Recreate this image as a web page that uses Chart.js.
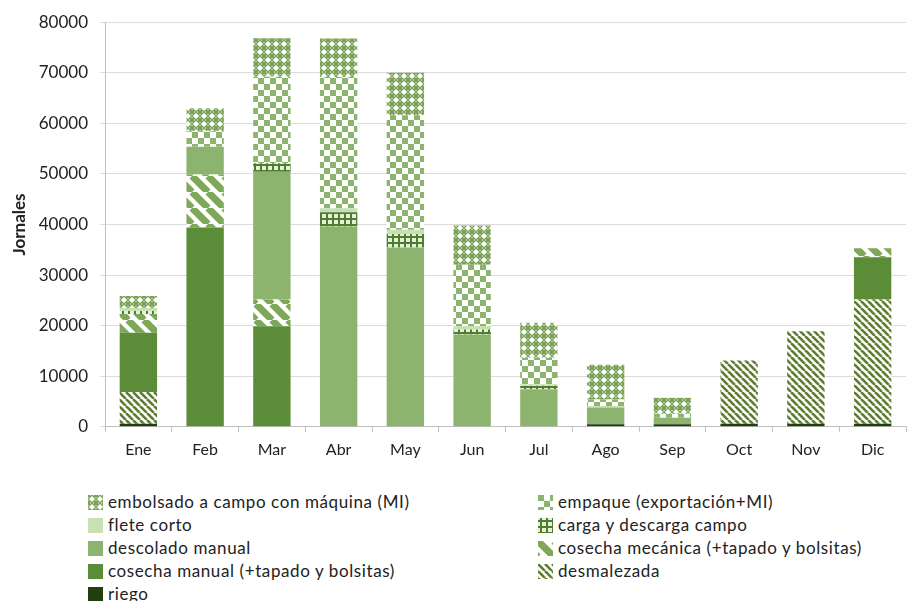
<!DOCTYPE html>
<html>
<head>
<meta charset="utf-8">
<script src="https://cdn.jsdelivr.net/npm/chart.js@4.4.1/dist/chart.umd.min.js"></script>
<style>
    body { margin: 0; background: #fff; width: 908px; height: 601px; overflow: hidden; position: relative; font-family: Lato, "Open Sans", sans-serif; }
    #wrap { position: absolute; left: 0; top: 0; width: 908px; height: 467px; }
    .legend { position: absolute; font-size: 17px; letter-spacing: 0.6px; color: #222; }
    .legend .row { position: absolute; white-space: nowrap; height: 20px; line-height: 20px; }
    .legend canvas { position: absolute; left: 0; top: 3px; }
    .legend span { position: absolute; left: 20px; top: 0; }
</style>
</head>
<body>
<div id="wrap"><canvas id="chart"></canvas></div>
<div class="legend" id="legendLeft" style="left:88px; top:492px;"></div>
<div class="legend" id="legendRight" style="left:538px; top:492px;"></div>
<script>
const months = ['Ene', 'Feb', 'Mar', 'Abr', 'May', 'Jun', 'Jul', 'Ago', 'Sep', 'Oct', 'Nov', 'Dic'];
const yTicks = [0, 10000, 20000, 30000, 40000, 50000, 60000, 70000, 80000];

// series, bottom of the stack first
const riego = [600, 0, 0, 0, 0, 0, 0, 500, 500, 600, 600, 600];
const desmalezada = [6300, 0, 0, 0, 0, 0, 0, 0, 0, 12500, 18300, 24550];
const cosechaManual = [11700, 39400, 19900, 0, 0, 0, 0, 0, 0, 0, 0, 8350];
const cosechaMecanica = [3700, 10500, 5250, 0, 0, 0, 0, 0, 0, 0, 0, 1800];
const descolado = [0, 5450, 25300, 39600, 35460, 18260, 7400, 3300, 1300, 0, 0, 0];
const carga = [600, 0, 1650, 2800, 2640, 1000, 700, 0, 0, 0, 0, 0];
const flete = [600, 0, 0, 800, 850, 650, 300, 300, 0, 0, 0, 0];
const empaque = [0, 3100, 17100, 25950, 22650, 12150, 5250, 1300, 800, 0, 0, 0];
const embolsado = [2350, 4600, 7650, 7650, 8400, 7750, 6900, 6900, 3150, 0, 0, 0];

// pattern painters
function solid(color) {
    return function(g, s) { g.fillStyle = color; g.fillRect(0, 0, s, s); };
}
function stripes(bg, fg, width) {
    return function(g, s) {
        g.fillStyle = bg; g.fillRect(0, 0, s, s);
        g.strokeStyle = fg; g.lineWidth = width;
        for (let k = -1; k <= 1; k++) {
            g.beginPath();
            g.moveTo(k * s, 0);
            g.lineTo(k * s + s, s);
            g.stroke();
        }
    };
}
function checker(g, s) {
    g.fillStyle = '#ffffff'; g.fillRect(0, 0, s, s);
    g.fillStyle = '#8db46f';
    g.fillRect(0, 0, s / 2, s / 2);
    g.fillRect(s / 2, s / 2, s / 2, s / 2);
}
function crossBars(g, s) {
    g.fillStyle = '#e4f0da'; g.fillRect(0, 0, s, s);
    g.fillStyle = '#4f7d2e';
    g.fillRect(0, 2, s, 2);
    g.fillRect(2, 0, 2, s);
}
function lattice(g, s) {
    g.fillStyle = '#ffffff'; g.fillRect(0, 0, s, s);
    g.strokeStyle = '#7aa357'; g.lineWidth = 1.4;
    g.beginPath();
    g.moveTo(0, s / 2); g.lineTo(s / 2, 0); g.lineTo(s, s / 2); g.lineTo(s / 2, s); g.closePath();
    g.stroke();
    g.fillStyle = '#7aa357';
    g.fillRect(0, 0, 2, 2); g.fillRect(s - 2, 0, 2, 2); g.fillRect(0, s - 2, 2, 2); g.fillRect(s - 2, s - 2, 2, 2);
}

function makePattern(ctx, size, paint) {
    const c = document.createElement('canvas');
    c.width = size; c.height = size;
    paint(c.getContext('2d'), size);
    return ctx.createPattern(c, 'repeat');
}

const styles = {
    riego: [4, solid('#233f12')],
    desmalezada: [7, stripes('#ffffff', '#5e7c2e', 2.6)],
    cosechaManual: [4, solid('#5b8d38')],
    cosechaMecanica: [16, stripes('#ffffff', '#7ea75a', 7)],
    descolado: [4, solid('#8db46f')],
    carga: [6, crossBars],
    flete: [4, solid('#c8e1b4')],
    empaque: [12, checker],
    embolsado: [8, lattice]
};

const ctx = document.getElementById('chart').getContext('2d');
function bg(key) { return makePattern(ctx, styles[key][0], styles[key][1]); }

const series = [
    { key: 'riego', label: 'riego', data: riego },
    { key: 'desmalezada', label: 'desmalezada', data: desmalezada },
    { key: 'cosechaManual', label: 'cosecha manual (+tapado y  bolsitas)', data: cosechaManual },
    { key: 'cosechaMecanica', label: 'cosecha mecánica (+tapado y bolsitas)', data: cosechaMecanica },
    { key: 'descolado', label: 'descolado manual', data: descolado },
    { key: 'carga', label: 'carga y descarga campo', data: carga },
    { key: 'flete', label: 'flete corto', data: flete },
    { key: 'empaque', label: 'empaque (exportación+MI)', data: empaque },
    { key: 'embolsado', label: 'embolsado a campo con máquina (MI)', data: embolsado }
];

new Chart(ctx, {
    type: 'bar',
    data: {
        labels: months,
        datasets: series.map(s => ({
            label: s.label,
            data: s.data,
            backgroundColor: bg(s.key),
            borderWidth: 0,
            categoryPercentage: 1,
            barPercentage: 0.56
        }))
    },
    options: {
        responsive: true,
        maintainAspectRatio: false,
        animation: false,
        layout: { padding: { top: 14, right: 2, left: 9, bottom: 0 } },
        plugins: { legend: { display: false }, tooltip: { enabled: false } },
        scales: {
            x: {
                stacked: true,
                grid: { display: true, drawOnChartArea: false, drawTicks: true, tickLength: 5, color: '#bfbfbf', offset: true },
                border: { color: '#bfbfbf' },
                ticks: { color: '#222', font: { family: 'Lato', size: 16 }, padding: 8 }
            },
            y: {
                stacked: true,
                min: 0,
                max: 80000,
                afterBuildTicks: axis => { axis.ticks = yTicks.map(v => ({ value: v })); },
                afterFit: axis => { axis.width = 96; },
                grid: { color: '#dcdcdc', tickLength: 5 },
                border: { color: '#bfbfbf' },
                ticks: { color: '#222', font: { family: 'Lato', size: 17 }, padding: 12, callback: v => String(v) },
                title: { display: true, text: 'Jornales', color: '#222', font: { family: 'Lato', size: 17, weight: 'bold' }, padding: 0 }
            }
        }
    }
});

// two-column legend in the same order as the original
const leftKeys = ['embolsado', 'flete', 'descolado', 'cosechaManual', 'riego'];
const rightKeys = ['empaque', 'carga', 'cosechaMecanica', 'desmalezada'];
function buildLegend(id, keys) {
    const box = document.getElementById(id);
    keys.forEach((key, i) => {
        const s = series.find(x => x.key === key);
        const row = document.createElement('div');
        row.className = 'row';
        row.style.top = (i * 23) + 'px';
        const sw = document.createElement('canvas');
        sw.width = 15; sw.height = 15;
        const g = sw.getContext('2d');
        g.fillStyle = makePattern(g, styles[key][0], styles[key][1]);
        g.fillRect(0, 0, 15, 15);
        const txt = document.createElement('span');
        txt.textContent = s.label;
        row.appendChild(sw);
        row.appendChild(txt);
        box.appendChild(row);
    });
}
buildLegend('legendLeft', leftKeys);
buildLegend('legendRight', rightKeys);
</script>
</body>
</html>
